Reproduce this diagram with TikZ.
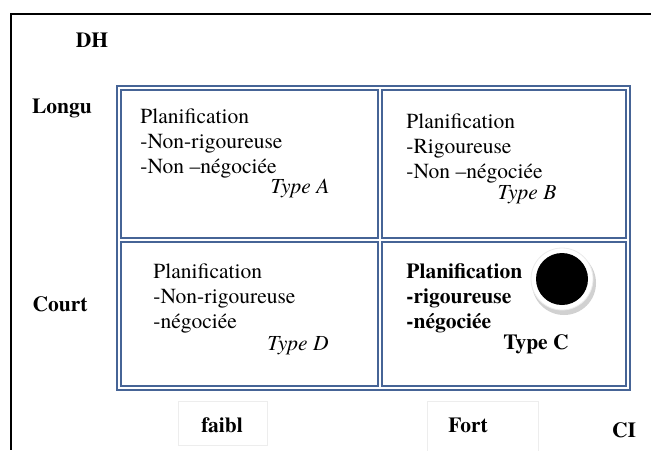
\documentclass[tikz,border=0pt]{standalone}
\usepackage{fontspec}
\setmainfont{texgyretermes}[Extension=.otf, UprightFont=*-regular, BoldFont=*-bold, ItalicFont=*-italic, BoldItalicFont=*-bolditalic]
\usepackage{tikz}
\usetikzlibrary{positioning}
\definecolor{gridblue}{RGB}{70,100,150}
\newcommand{\cellsize}{\fontsize{10.75pt}{12.5pt}\selectfont}
\tikzstyle{cell} = [rectangle, draw=gridblue, line width=0.75pt, inner sep=0pt, outer sep=0pt, anchor=north west]
\tikzstyle{plan} = [align=left, anchor=north west, inner sep=0pt, font=\cellsize]
\tikzstyle{kind} = [inner sep=0pt, font=\cellsize\itshape]
\tikzstyle{axis} = [inner sep=0pt, font=\cellsize\bfseries]

\begin{document}
\begin{tikzpicture}[x=0.5pt, y=-0.5pt]
				\useasboundingbox (0,0) rectangle (651,450);
				% Frame
				\draw[line width=1pt] (651,14) -- (11,14) -- (11,450);
				\draw[gridblue, line width=1pt] (117,86) rectangle (630,390);
				% Place cells
				\node [cell, minimum width=128.5pt, minimum height=74pt] (cellA) at (121,90) {};
				\node [cell, minimum width=122pt, minimum height=74pt] (cellB) at (382,90) {};
				\node [cell, minimum width=128.5pt, minimum height=72pt] (cellD) at (121,242) {};
				\node [cell, minimum width=122pt, minimum height=72pt] (cellC) at (382,242) {};
				% Place texts
				\node [plan, below right=9pt and 9.5pt of cellA.north west] (planA) {Planification\\-Non-rigoureuse\\-Non –négociée};
				\node [plan, below right=11.5pt and 12pt of cellB.north west] (planB) {Planification\\-Rigoureuse\\-Non –négociée};
				\node [plan, below right=10.5pt and 16pt of cellD.north west] (planD) {Planification\\-Non-rigoureuse\\-négociée};
				\node [plan, font=\cellsize\bfseries, below right=10.5pt and 12pt of cellC.north west] (planC) {Planification\\-rigoureuse\\-négociée};
				\node [kind] (typeA) at (300,189) {Type A};
				\node [kind] (typeB) at (527,195) {Type B};
				\node [kind] (typeD) at (298,346) {Type D};
				\node [axis] (typeC) at (536,344) {Type C};
				% Marker
				\fill[black!18] (564,283) circle (32);
				\fill[white, draw=black!8] (562,279) circle (31);
				\fill[black] (562,279) circle (26);
				% Axes
				\node [axis] (dh) at (92,40) {DH};
				\node [axis] (longu) at (62,108) {Longu};
				\node [axis] (court) at (60,304) {Court};
				\draw[black!7] (178,401) rectangle (267,445);
				\draw[black!7] (427,401) rectangle (538,452);
				\node [axis] (faibl) at (222,425) {faibl};
				\node [axis] (fort) at (468,425) {Fort};
				\node [axis] (ci) at (624,430) {CI};
			\end{tikzpicture}
\end{document}
